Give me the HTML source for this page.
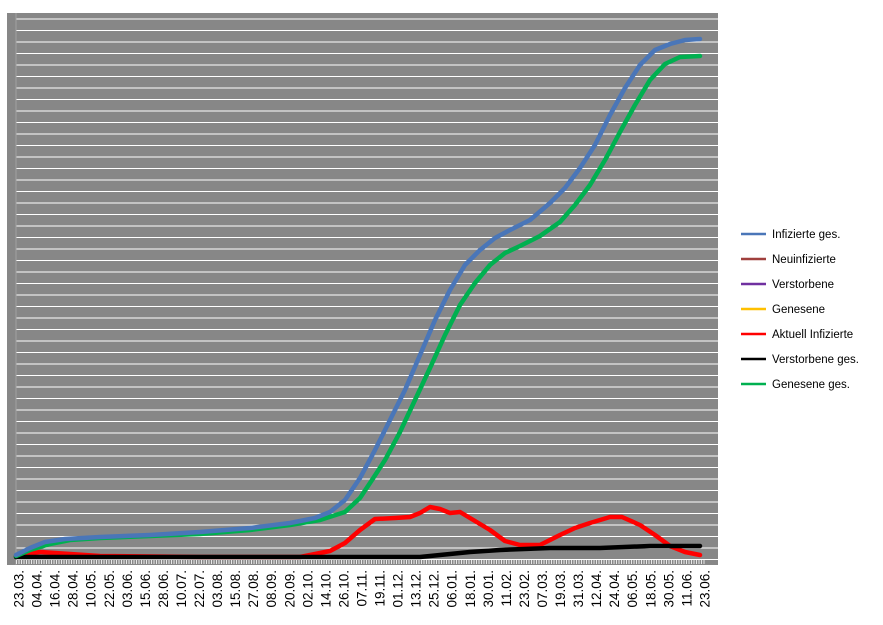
<!DOCTYPE html>
<html><head><meta charset="utf-8"><style>
html,body{margin:0;padding:0;background:#fff;width:883px;height:625px;overflow:hidden}
svg text{font-family:"Liberation Sans",sans-serif}
</style></head><body>
<svg width="883" height="625" xmlns="http://www.w3.org/2000/svg">
<defs>
<pattern id="g" x="0" y="8" width="10" height="11.5" patternUnits="userSpaceOnUse">
<rect x="0" y="0" width="10" height="11.5" fill="#878787"/>
<rect x="0" y="10.5" width="10" height="1.6" fill="#fff"/>
</pattern>
</defs>
<rect x="7" y="13" width="711" height="552" fill="#878787"/>
<rect x="16" y="14" width="702" height="546" fill="url(#g)"/>
<line x1="16" y1="13" x2="16" y2="565" stroke="#a0a0a0" stroke-width="1"/>
<line x1="16" y1="562" x2="705" y2="562" stroke="#fff" stroke-width="4" stroke-dasharray="1 1.5" opacity="0.8"/>
<g fill="none" stroke-linejoin="round" stroke-linecap="round">
<path d="M16,556 L40,552 L70,554 L100,556 L200,557 L300,557 L330,551 L345,543 L360,530 L375,519 L395,518 L410,517 L420,513 L430,507 L440,509 L450,513 L460,512 L470,518 L490,530 L505,541 L520,545 L540,545 L560,535 L575,528 L590,523 L610,517 L622,517 L640,525 L655,535 L670,546 L685,552 L700,555" stroke="#ff0000" stroke-width="4.5"/>
<path d="M16,557 L420,557 L440,555 L470,552 L500,550 L550,548 L600,548 L650,546 L700,546" stroke="#000" stroke-width="4.5"/>
<path d="M16,556 L30,550 L50,544 L70,540 L100,538 L150,536 L200,534 L250,530 L290,525 L320,520 L345,512 L360,498 L372,480 L385,460 L400,432 L415,400 L430,368 L445,335 L460,305 L475,283 L490,265 L505,253 L520,246 L540,236 L560,222 L575,205 L590,185 L605,160 L620,132 L635,105 L650,80 L665,64 L680,57 L700,56" stroke="#00b050" stroke-width="4.5"/>
<path d="M16,555 L30,548 L45,542 L65,539 L100,537 L150,535 L200,532 L250,528 L290,523 L315,518 L330,512 L345,500 L360,478 L375,450 L390,420 L405,390 L420,355 L435,320 L450,290 L465,265 L480,250 L495,238 L510,230 L530,220 L550,203 L565,188 L580,168 L595,145 L610,115 L625,88 L640,65 L655,50 L670,44 L685,40 L700,39" stroke="#4a76b8" stroke-width="4.5"/>
</g>
<g font-size="13.5" fill="#000" text-anchor="end">
<text transform="translate(23.5,570) rotate(-90)">23.03.</text>
<text transform="translate(41.55,570) rotate(-90)">04.04.</text>
<text transform="translate(59.6,570) rotate(-90)">16.04.</text>
<text transform="translate(77.65,570) rotate(-90)">28.04.</text>
<text transform="translate(95.7,570) rotate(-90)">10.05.</text>
<text transform="translate(113.75,570) rotate(-90)">22.05.</text>
<text transform="translate(131.8,570) rotate(-90)">03.06.</text>
<text transform="translate(149.85,570) rotate(-90)">15.06.</text>
<text transform="translate(167.9,570) rotate(-90)">28.06.</text>
<text transform="translate(185.95,570) rotate(-90)">10.07.</text>
<text transform="translate(204,570) rotate(-90)">22.07.</text>
<text transform="translate(222.05,570) rotate(-90)">03.08.</text>
<text transform="translate(240.1,570) rotate(-90)">15.08.</text>
<text transform="translate(258.15,570) rotate(-90)">27.08.</text>
<text transform="translate(276.2,570) rotate(-90)">08.09.</text>
<text transform="translate(294.25,570) rotate(-90)">20.09.</text>
<text transform="translate(312.3,570) rotate(-90)">02.10.</text>
<text transform="translate(330.35,570) rotate(-90)">14.10.</text>
<text transform="translate(348.4,570) rotate(-90)">26.10.</text>
<text transform="translate(366.45,570) rotate(-90)">07.11.</text>
<text transform="translate(384.5,570) rotate(-90)">19.11.</text>
<text transform="translate(402.55,570) rotate(-90)">01.12.</text>
<text transform="translate(420.6,570) rotate(-90)">13.12.</text>
<text transform="translate(438.65,570) rotate(-90)">25.12.</text>
<text transform="translate(456.7,570) rotate(-90)">06.01.</text>
<text transform="translate(474.75,570) rotate(-90)">18.01.</text>
<text transform="translate(492.8,570) rotate(-90)">30.01.</text>
<text transform="translate(510.85,570) rotate(-90)">11.02.</text>
<text transform="translate(528.9,570) rotate(-90)">23.02.</text>
<text transform="translate(546.95,570) rotate(-90)">07.03.</text>
<text transform="translate(565,570) rotate(-90)">19.03.</text>
<text transform="translate(583.05,570) rotate(-90)">31.03.</text>
<text transform="translate(601.1,570) rotate(-90)">12.04.</text>
<text transform="translate(619.15,570) rotate(-90)">24.04.</text>
<text transform="translate(637.2,570) rotate(-90)">06.05.</text>
<text transform="translate(655.25,570) rotate(-90)">18.05.</text>
<text transform="translate(673.3,570) rotate(-90)">30.05.</text>
<text transform="translate(691.35,570) rotate(-90)">11.06.</text>
<text transform="translate(709.4,570) rotate(-90)">23.06.</text>
</g>
<g stroke-width="2.5">
<line x1="741" y1="234" x2="766" y2="234" stroke="#4a76b8"/>
<line x1="741" y1="259" x2="766" y2="259" stroke="#a0403d"/>
<line x1="741" y1="284" x2="766" y2="284" stroke="#7030a0"/>
<line x1="741" y1="309" x2="766" y2="309" stroke="#ffc000"/>
<line x1="741" y1="334" x2="766" y2="334" stroke="#ff0000"/>
<line x1="741" y1="359" x2="766" y2="359" stroke="#000"/>
<line x1="741" y1="384" x2="766" y2="384" stroke="#00b050"/>
</g>
<g font-size="11.5" fill="#000">
<text x="772" y="238">Infizierte ges.</text>
<text x="772" y="263">Neuinfizierte</text>
<text x="772" y="288">Verstorbene</text>
<text x="772" y="313">Genesene</text>
<text x="772" y="338">Aktuell Infizierte</text>
<text x="772" y="363">Verstorbene ges.</text>
<text x="772" y="388">Genesene ges.</text>
</g>
</svg>
</body></html>
